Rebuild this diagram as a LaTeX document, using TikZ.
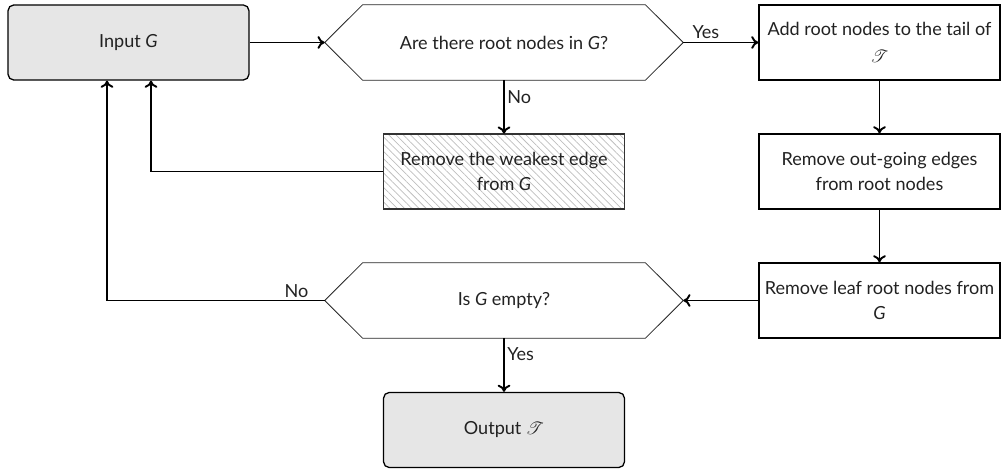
\documentclass[tikz,border=0pt]{standalone}
\usepackage{fontspec}
\setmainfont{Lato}
\usepackage{mathrsfs}
\usetikzlibrary{patterns.meta,arrows.meta}
\definecolor{boxgray}{HTML}{E6E6E6}
\definecolor{txt}{HTML}{222222}
\definecolor{hatch}{HTML}{BEBEBE}
\tikzset{
  base/.style={minimum width=5.30cm, minimum height=1.65cm, align=center,
    text=txt, font=\fontsize{11.3}{15.2}\selectfont, inner sep=2pt},
  terminal/.style={base, draw=black, line width=0.8pt, fill=boxgray, rounded corners=3.5pt},
  process/.style={base, draw=black, line width=0.8pt},
  hatched/.style={base, draw=black!80, line width=0.8pt,
    pattern={Lines[angle=-45, distance=3.2pt, line width=0.45pt]}, pattern color=hatch},
  decision/.style={base, minimum width=7.876cm},
  arr/.style={-{To[length=4.5pt,width=8pt]}, line width=1.2pt, black},
  lbl/.style={text=txt, font=\fontsize{11.3}{13}\selectfont, inner sep=1.5pt},
}
\newcommand{\hexoutline}[1]{%
  \draw[line width=0.5pt, black!85] (#1.west) -- ([xshift=0.836cm]#1.north west)
    -- ([xshift=-0.836cm]#1.north east) -- (#1.east)
    -- ([xshift=-0.836cm]#1.south east) -- ([xshift=0.836cm]#1.south west) -- cycle;}
\begin{document}
\begin{tikzpicture}[x=0.022cm, y=-0.022cm]
\useasboundingbox (0,0) rectangle (1001,469);

% boxes
\node[terminal] (in) at (128.5,42.5) {Input \textit{G}};
\node[decision] (q1) at (504,42.5) {Are there root nodes in \textit{G}?};
\hexoutline{q1}
\node[process] (add) at (879.5,42.5) {Add root nodes to the tail of\\[2pt]$\mathscr{T}$};
\node[hatched] (weak) at (504,171.5) {Remove the weakest edge\\from \textit{G}};
\node[process] (outg) at (879.5,171.5) {Remove out-going edges\\from root nodes};
\node[process] (leaf) at (879.5,300.5) {Remove leaf root nodes from\\\textit{G}};
\node[decision] (q2) at (504,300.5) {Is \textit{G} empty?};
\hexoutline{q2}
\node[terminal] (res) at (504,430) {Output $\mathscr{T}$};

% connectors
\draw[arr] (in) -- (q1);
\draw[arr] (q1.east) -- node[lbl, above, pos=0.3] {Yes} (add.west);
\draw[arr] (q1.south) -- node[lbl, right, pos=0.32] {No} (weak.north);
\draw[arr] (weak.west) -| ([xshift=0.495cm]in.south);
\draw[arr] (add) -- (outg);
\draw[arr] (outg) -- (leaf);
\draw[arr] (leaf.west) -- (q2.east);
\draw[arr] (q2.west) -| node[lbl, above left, pos=0.03] {No} ([xshift=-0.473cm]in.south);
\draw[arr] (q2.south) -- node[lbl, right, pos=0.3] {Yes} (res.north);
\end{tikzpicture}
\end{document}
